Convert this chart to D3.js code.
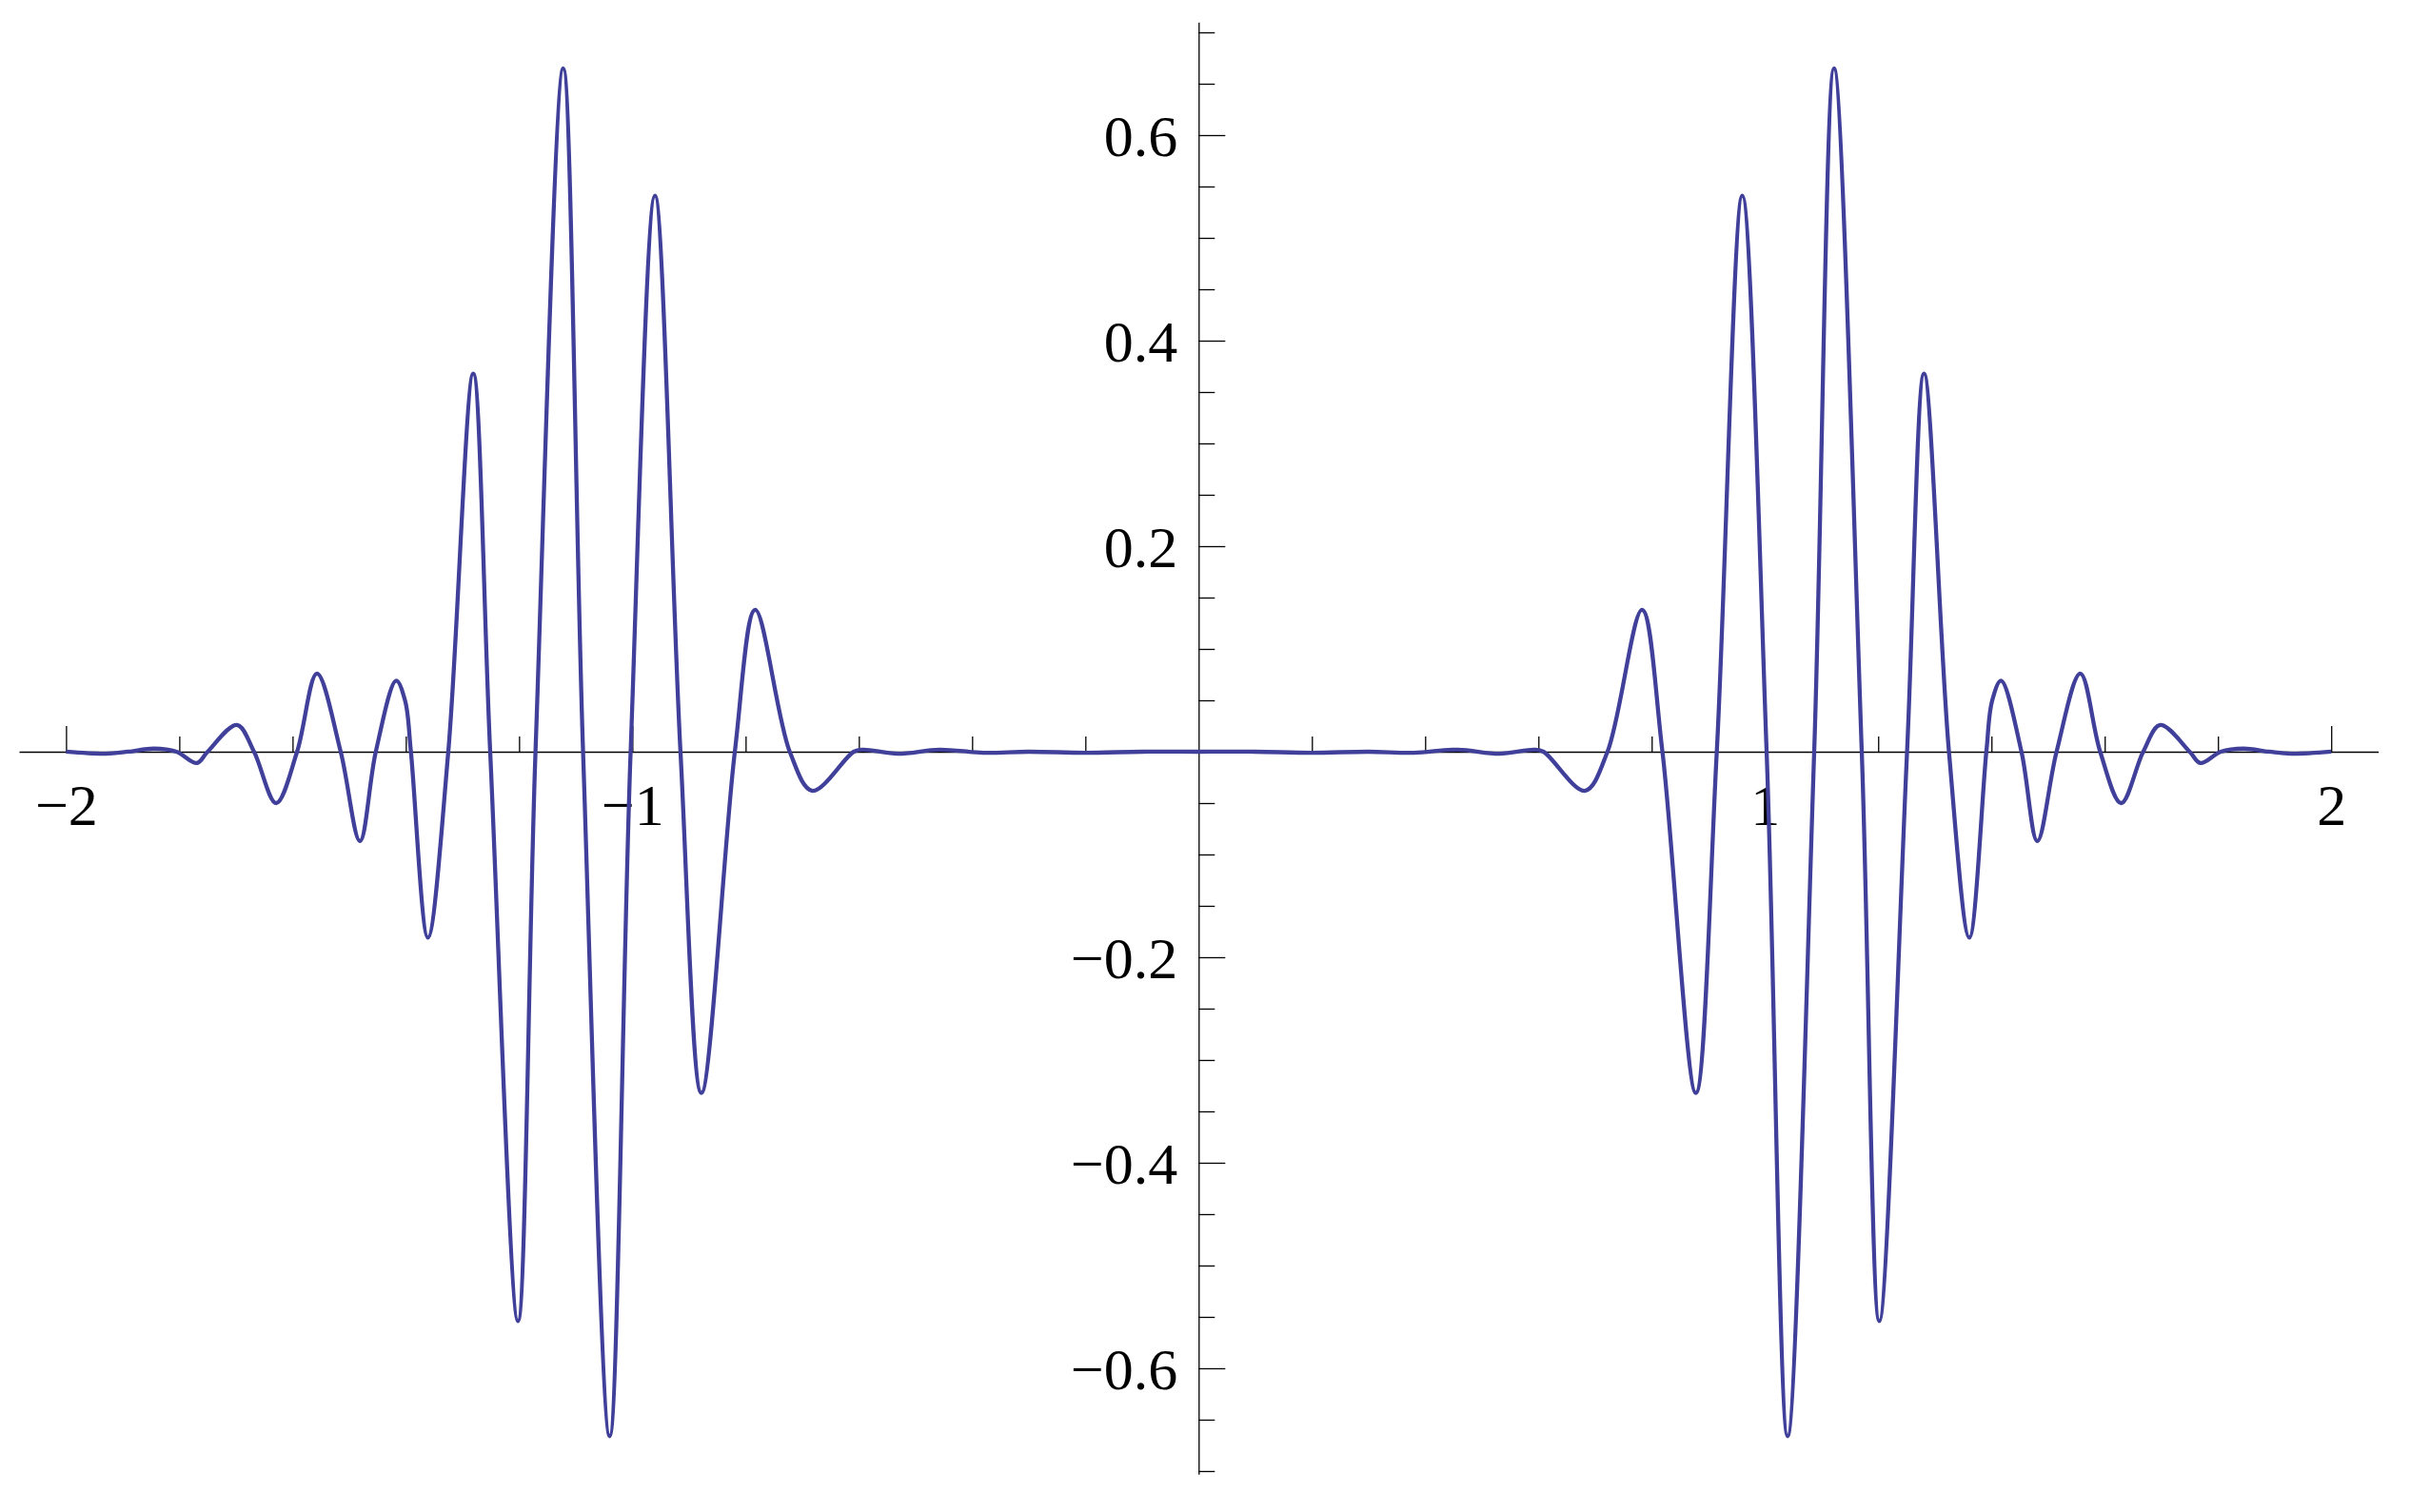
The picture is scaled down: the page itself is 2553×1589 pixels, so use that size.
<!DOCTYPE html>
<html>
<head>
<meta charset="utf-8">
<script src="https://cdn.jsdelivr.net/npm/d3@7"></script>
<style>
    body { margin: 0; background: #fff; }
    svg { display: block; }
    .axis path, .axis line { stroke: #000; stroke-width: 1.3; }
    .axis text { font-family: "Liberation Serif", "Times New Roman", serif; font-size: 62px; fill: #000; }
</style>
</head>
<body>
<div id="plot"></div>
<script>
// curve samples (x, y): extrema, zero crossings, small ripples
var curveX = [
    -2.000, -1.930, -1.890, -1.845, -1.805, -1.769, -1.750, -1.698, -1.668, -1.629,
    -1.592, -1.557, -1.515, -1.481, -1.453, -1.417, -1.401, -1.391, -1.361, -1.325,
    -1.281, -1.251, -1.202, -1.171, -1.122, -1.087, -1.040, -1.003, -0.960, -0.915,
    -0.878, -0.819, -0.783, -0.722, -0.682, -0.609, -0.593, -0.531, -0.458, -0.380,
    -0.300, -0.200, -0.100, 0.000,
    0.100, 0.200, 0.300, 0.380, 0.458, 0.531, 0.593, 0.609, 0.682, 0.722,
    0.783, 0.819, 0.878, 0.915, 0.960, 1.003, 1.040, 1.087, 1.122, 1.171,
    1.202, 1.251, 1.281, 1.325, 1.361, 1.391, 1.401, 1.417, 1.453, 1.481,
    1.515, 1.557, 1.592, 1.629, 1.668, 1.698, 1.750, 1.769, 1.805, 1.845,
    1.890, 1.930, 2.000
];
var curveY = [
    0.000, -0.002, 0.000, 0.003, 0.000, -0.011, 0.000, 0.026, 0.000, -0.050,
    0.000, 0.076, 0.000, -0.087, 0.000, 0.069, 0.049, 0.000, -0.181, 0.000,
    0.368, 0.000, -0.554, 0.000, 0.665, 0.000, -0.666, 0.000, 0.541, 0.000,
    -0.332, 0.000, 0.138, 0.000, -0.038, 0.000, 0.002, -0.002, 0.002, -0.001,
    0.000, -0.001, 0.000, 0.000,
    0.000, -0.001, 0.000, -0.001, 0.002, -0.002, 0.002, 0.000, -0.038, 0.000,
    0.138, 0.000, -0.332, 0.000, 0.541, 0.000, -0.666, 0.000, 0.665, 0.000,
    -0.554, 0.000, 0.368, 0.000, -0.181, 0.000, 0.049, 0.069, 0.000, -0.087,
    0.000, 0.076, 0.000, -0.050, 0.000, 0.026, 0.000, -0.011, 0.000, 0.003,
    0.000, -0.002, 0.000
];

// ticks
var xMajorTicks = [-2, -1, 1, 2];
var xTickLabels = ["\u22122", "\u22121", "1", "2"];
var xMinorTicks = [-1.8, -1.6, -1.4, -1.2, -0.8, -0.6, -0.4, -0.2, 0.2, 0.4, 0.6, 0.8, 1.2, 1.4, 1.6, 1.8];
var yMajorTicks = [-0.6, -0.4, -0.2, 0.2, 0.4, 0.6];
var yTickLabels = ["\u22120.6", "\u22120.4", "\u22120.2", "0.2", "0.4", "0.6"];
var yMinorTicks = [-0.7, -0.65, -0.55, -0.5, -0.45, -0.35, -0.3, -0.25, -0.15, -0.1, -0.05,
    0.05, 0.1, 0.15, 0.25, 0.3, 0.35, 0.45, 0.5, 0.55, 0.65, 0.7];

var width = 2553, height = 1589;

var svg = d3.select('#plot').append('svg')
    .attr('width', width)
    .attr('height', height);

svg.append('rect').attr('width', width).attr('height', height).attr('fill', '#fff');

var x = d3.scaleLinear().domain([-2.083, 2.083]).range([20, 2498.6]);
var y = d3.scaleLinear().domain([-0.703, 0.710]).range([1549.2, 23.2]);

// x axis: ticks point up, labels below
var xAxisG = svg.append('g')
    .attr('class', 'axis')
    .attr('transform', 'translate(0,' + y(0) + ')');

xAxisG.append('g').call(
    d3.axisBottom(x).tickValues(xMinorTicks).tickSizeInner(-16).tickSizeOuter(0).tickFormat('')
);
xAxisG.append('g').call(
    d3.axisBottom(x).tickValues(xMajorTicks).tickSizeInner(-27).tickSizeOuter(0)
        .tickPadding(33)
        .tickFormat(function (d, i) { return xTickLabels[i]; })
);
xAxisG.selectAll('.domain').filter(function (d, i) { return i > 0; }).remove();

// y axis: ticks point right, labels left
var yAxisG = svg.append('g')
    .attr('class', 'axis')
    .attr('transform', 'translate(' + x(0) + ',0)');

yAxisG.append('g').call(
    d3.axisLeft(y).tickValues(yMinorTicks).tickSizeInner(-17).tickSizeOuter(0).tickFormat('')
);
yAxisG.append('g').call(
    d3.axisLeft(y).tickValues(yMajorTicks).tickSizeInner(-28).tickSizeOuter(0)
        .tickPadding(22)
        .tickFormat(function (d, i) { return yTickLabels[i]; })
);
yAxisG.selectAll('.domain').filter(function (d, i) { return i > 0; }).remove();
yAxisG.selectAll('text').attr('dy', '0.34em');

// d3 puts sans-serif on the axis groups, take it off
svg.selectAll('.axis g').attr('font-family', null).attr('font-size', null);
svg.selectAll('.axis text')
    .attr('font-family', '"Liberation Serif", "Times New Roman", serif')
    .attr('font-size', 62);

// the curve goes on top of the labels
var points = curveX.map(function (d, i) { return [d, curveY[i]]; });

var line = d3.line()
    .x(function (d) { return x(d[0]); })
    .y(function (d) { return y(d[1]); })
    .curve(d3.curveCatmullRom.alpha(0.5));

svg.append('path')
    .datum(points)
    .attr('fill', 'none')
    .attr('stroke', '#40409a')
    .attr('stroke-width', 4.3)
    .attr('stroke-linejoin', 'round')
    .attr('d', line);
</script>
</body>
</html>
